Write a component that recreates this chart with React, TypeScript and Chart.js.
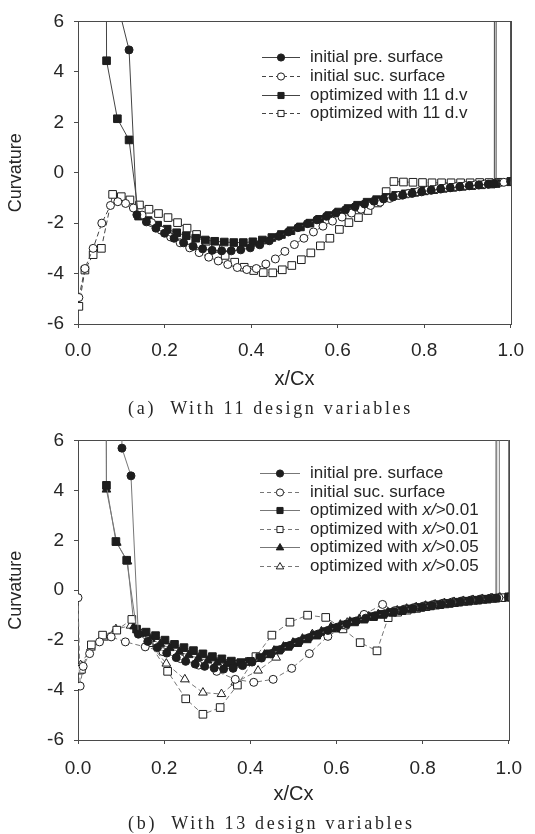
import React, { useEffect, useRef } from 'react';
import { Chart, registerables } from 'chart.js';

Chart.register(...registerables);

const FONT = '"Liberation Sans", Arial, Helvetica, sans-serif';
const SERIF = '"Liberation Serif", "Times New Roman", Times, serif';

// ---------- axes ----------
const xTickValues = [0, 0.2, 0.4, 0.6, 0.8, 1.0];
const yTickValues = [-6, -4, -2, 0, 2, 4, 6];
const xTitle = 'x/Cx';
const yTitle = 'Curvature';
const captionA = '(a)  With 11 design variables';
const captionB = '(b)  With 13 design variables';

// ---------- chart (a) ----------
const aLabels = ['initial pre. surface', 'initial suc. surface', 'optimized with 11 d.v', 'optimized with 11 d.v'];

const aPreX = [0.0, 0.118, 0.136, 0.158, 0.18, 0.2, 0.222, 0.244, 0.266, 0.288, 0.31, 0.332, 0.354, 0.376, 0.398, 0.42, 0.442, 0.464, 0.486, 0.508, 0.53, 0.552, 0.574, 0.596, 0.618, 0.64, 0.662, 0.684, 0.706, 0.728, 0.75, 0.772, 0.794, 0.816, 0.838, 0.86, 0.882, 0.904, 0.926, 0.948, 0.962, 0.969, 1.0];
const aPreY = [13, 4.87, -1.67, -1.95, -2.2, -2.4, -2.6, -2.78, -2.92, -3.02, -3.08, -3.1, -3.1, -3.06, -2.98, -2.86, -2.7, -2.52, -2.35, -2.18, -2.02, -1.87, -1.73, -1.6, -1.47, -1.35, -1.24, -1.13, -1.04, -0.96, -0.89, -0.82, -0.76, -0.7, -0.65, -0.6, -0.56, -0.52, -0.49, -0.46, -0.44, 400, -0.35];

const aSucX = [0.002, 0.016, 0.035, 0.055, 0.075, 0.092, 0.11, 0.128, 0.148, 0.17, 0.192, 0.214, 0.236, 0.258, 0.28, 0.302, 0.324, 0.346, 0.368, 0.39, 0.412, 0.434, 0.456, 0.478, 0.5, 0.522, 0.544, 0.566, 0.588, 0.61, 0.632, 0.654, 0.676, 0.698, 0.72, 0.742, 0.764, 0.786, 0.808, 0.83, 0.852, 0.874, 0.896, 0.918, 0.94, 0.962, 0.984, 1.0];
const aSucY = [-4.95, -3.8, -3.0, -2.0, -1.3, -1.15, -1.22, -1.4, -1.68, -1.98, -2.28, -2.55, -2.78, -2.98, -3.17, -3.35, -3.5, -3.64, -3.76, -3.84, -3.8, -3.62, -3.42, -3.12, -2.85, -2.6, -2.35, -2.12, -1.92, -1.76, -1.6, -1.45, -1.3, -1.17, -1.02, -0.9, -0.82, -0.75, -0.69, -0.64, -0.59, -0.55, -0.51, -0.48, -0.45, -0.42, -0.38, -0.35];

const aOptPreX = [0.062, 0.066, 0.091, 0.118, 0.14, 0.162, 0.184, 0.206, 0.228, 0.25, 0.272, 0.294, 0.316, 0.338, 0.36, 0.382, 0.404, 0.426, 0.448, 0.47, 0.492, 0.514, 0.536, 0.558, 0.58, 0.602, 0.624, 0.646, 0.668, 0.69, 0.712, 0.734, 0.756, 0.778, 0.8, 0.822, 0.844, 0.866, 0.888, 0.91, 0.932, 0.954, 0.966, 0.973, 1.0];
const aOptPreY = [30, 4.44, 2.14, 1.3, -1.72, -1.9, -2.08, -2.24, -2.38, -2.5, -2.6, -2.67, -2.72, -2.75, -2.77, -2.77, -2.74, -2.67, -2.57, -2.45, -2.3, -2.15, -2.0, -1.85, -1.7, -1.56, -1.42, -1.29, -1.17, -1.07, -0.98, -0.9, -0.84, -0.78, -0.72, -0.67, -0.62, -0.58, -0.54, -0.51, -0.48, -0.45, -0.43, 400, -0.35];

const aOptSucX = [0.002, 0.016, 0.035, 0.054, 0.08, 0.1, 0.12, 0.142, 0.164, 0.186, 0.208, 0.23, 0.252, 0.274, 0.296, 0.318, 0.34, 0.362, 0.384, 0.406, 0.428, 0.45, 0.472, 0.494, 0.516, 0.538, 0.56, 0.582, 0.604, 0.626, 0.648, 0.67, 0.692, 0.712, 0.73, 0.752, 0.774, 0.796, 0.818, 0.84, 0.862, 0.884, 0.906, 0.928, 0.95, 0.972, 1.0];
const aOptSucY = [-5.3, -3.86, -3.25, -3.0, -0.86, -0.95, -1.08, -1.28, -1.45, -1.62, -1.78, -1.98, -2.2, -2.45, -2.72, -3.0, -3.28, -3.55, -3.75, -3.88, -3.96, -3.97, -3.85, -3.68, -3.45, -3.18, -2.9, -2.6, -2.25, -1.98, -1.78, -1.5, -1.2, -0.75, -0.35, -0.37, -0.38, -0.39, -0.4, -0.4, -0.4, -0.4, -0.4, -0.39, -0.39, -0.38, -0.36];

// ---------- chart (b) ----------
const bLabels = ['initial pre. surface', 'initial suc. surface', 'optimized with x/>0.01', 'optimized with x/>0.01', 'optimized with x/>0.05', 'optimized with x/>0.05'];

const bPreX = [0.098, 0.102, 0.123, 0.14, 0.162, 0.184, 0.206, 0.228, 0.25, 0.272, 0.294, 0.316, 0.338, 0.36, 0.382, 0.404, 0.426, 0.448, 0.47, 0.492, 0.514, 0.536, 0.558, 0.58, 0.602, 0.624, 0.646, 0.668, 0.69, 0.712, 0.734, 0.756, 0.778, 0.8, 0.822, 0.844, 0.866, 0.888, 0.91, 0.932, 0.954, 0.972, 0.976, 1.0];
const bPreY = [30, 5.69, 4.58, -1.76, -2.05, -2.3, -2.52, -2.7, -2.85, -2.96, -3.05, -3.12, -3.16, -3.13, -3.02, -2.88, -2.72, -2.55, -2.38, -2.21, -2.05, -1.9, -1.75, -1.61, -1.48, -1.35, -1.23, -1.12, -1.02, -0.94, -0.86, -0.79, -0.73, -0.67, -0.61, -0.56, -0.51, -0.46, -0.42, -0.38, -0.34, -0.31, 400, -0.27];

const bSucX = [0.0, 0.005, 0.012, 0.027, 0.05, 0.077, 0.11, 0.156, 0.197, 0.238, 0.28, 0.322, 0.365, 0.408, 0.453, 0.496, 0.537, 0.58, 0.622, 0.664, 0.707, 0.735, 0.757, 0.779, 0.801, 0.823, 0.845, 0.867, 0.889, 0.911, 0.933, 0.955, 0.977, 1.0];
const bSucY = [-0.3, -3.84, -3.05, -2.54, -2.07, -1.87, -2.07, -2.27, -2.46, -2.74, -3.0, -3.25, -3.57, -3.69, -3.57, -3.13, -2.54, -1.85, -1.4, -0.97, -0.57, -0.82, -0.76, -0.7, -0.64, -0.58, -0.53, -0.48, -0.44, -0.4, -0.36, -0.33, -0.3, -0.27];

const bOpt1PreX = [0.062, 0.066, 0.088, 0.113, 0.136, 0.158, 0.18, 0.202, 0.224, 0.246, 0.268, 0.29, 0.312, 0.334, 0.356, 0.378, 0.4, 0.422, 0.444, 0.466, 0.488, 0.51, 0.532, 0.554, 0.576, 0.598, 0.62, 0.642, 0.664, 0.686, 0.708, 0.73, 0.752, 0.774, 0.796, 0.818, 0.84, 0.862, 0.884, 0.906, 0.928, 0.95, 0.97, 0.98, 1.0];
const bOpt1PreY = [30, 4.2, 1.95, 1.2, -1.56, -1.68, -1.82, -2.0, -2.17, -2.3, -2.42, -2.55, -2.66, -2.75, -2.84, -2.9, -2.85, -2.7, -2.55, -2.4, -2.25, -2.1, -1.95, -1.8, -1.66, -1.52, -1.39, -1.27, -1.16, -1.06, -0.97, -0.89, -0.82, -0.75, -0.69, -0.63, -0.58, -0.53, -0.48, -0.44, -0.4, -0.36, -0.32, 400, -0.28];

const bOpt1SucX = [0.004, 0.008, 0.031, 0.057, 0.09, 0.125, 0.165, 0.208, 0.25, 0.29, 0.33, 0.37, 0.413, 0.45, 0.492, 0.533, 0.575, 0.615, 0.655, 0.694, 0.72, 0.742, 0.764, 0.786, 0.808, 0.83, 0.852, 0.874, 0.896, 0.918, 0.94, 0.962, 0.984, 1.0];
const bOpt1SucY = [-3.2, -3.17, -2.19, -1.8, -1.6, -1.17, -2.1, -3.25, -4.35, -4.97, -4.7, -3.8, -2.66, -1.8, -1.28, -1.0, -1.09, -1.55, -2.1, -2.43, -1.1, -0.88, -0.8, -0.73, -0.66, -0.6, -0.55, -0.5, -0.45, -0.41, -0.37, -0.33, -0.3, -0.27];

const bOpt2PreX = [0.063, 0.066, 0.09, 0.115, 0.13, 0.147, 0.169, 0.191, 0.213, 0.235, 0.257, 0.279, 0.301, 0.323, 0.345, 0.367, 0.389, 0.411, 0.433, 0.455, 0.477, 0.499, 0.521, 0.543, 0.565, 0.587, 0.609, 0.631, 0.653, 0.675, 0.697, 0.719, 0.741, 0.763, 0.785, 0.807, 0.829, 0.851, 0.873, 0.895, 0.917, 0.939, 0.961, 0.978, 0.982, 1.0];
const bOpt2PreY = [30, 4.03, 1.9, 1.15, -1.45, -1.75, -1.95, -2.15, -2.32, -2.47, -2.6, -2.72, -2.82, -2.9, -2.96, -2.98, -2.9, -2.75, -2.58, -2.42, -2.26, -2.1, -1.94, -1.8, -1.65, -1.52, -1.38, -1.26, -1.15, -1.05, -0.96, -0.88, -0.81, -0.74, -0.68, -0.62, -0.57, -0.52, -0.47, -0.43, -0.39, -0.35, -0.32, -0.3, 400, -0.27];

const bOpt2SucX = [0.006, 0.03, 0.06, 0.088, 0.122, 0.167, 0.205, 0.248, 0.29, 0.333, 0.365, 0.418, 0.46, 0.503, 0.544, 0.587, 0.625, 0.66, 0.7, 0.738, 0.76, 0.782, 0.804, 0.826, 0.848, 0.87, 0.892, 0.914, 0.936, 0.958, 0.98, 1.0];
const bOpt2SucY = [-3.0, -2.3, -1.9, -1.56, -1.42, -2.15, -2.94, -3.57, -4.1, -4.16, -3.7, -3.22, -2.7, -2.15, -1.76, -1.48, -1.3, -1.15, -1.0, -0.85, -0.78, -0.71, -0.65, -0.59, -0.54, -0.49, -0.45, -0.41, -0.37, -0.33, -0.3, -0.27];

// ---------- helpers ----------
type Shape = 'circle' | 'rect' | 'triangle';
type Series = { label: string; xs: number[]; ys: number[]; shape: Shape; filled: boolean; dashed: boolean };

const zip = (xs: number[], ys: number[]) => xs.map((x, i) => ({ x, y: ys[i] }));

const MARK = '#1e1e1e';
const TEXT = '#262626';
const AXIS = '#4a4a4a';

function drawMarker(ctx: CanvasRenderingContext2D, shape: Shape, x: number, y: number, r: number, filled: boolean) {
  ctx.beginPath();
  if (shape === 'circle') {
    ctx.arc(x, y, r, 0, Math.PI * 2);
  } else if (shape === 'rect') {
    const s = r * 0.85;
    ctx.rect(x - s, y - s, 2 * s, 2 * s);
  } else {
    const h = r * 1.1;
    ctx.moveTo(x, y - h);
    ctx.lineTo(x + h * 0.95, y + h * 0.6);
    ctx.lineTo(x - h * 0.95, y + h * 0.6);
    ctx.closePath();
  }
  ctx.fillStyle = filled ? MARK : '#ffffff';
  ctx.fill();
  ctx.lineWidth = 1;
  ctx.strokeStyle = MARK;
  ctx.stroke();
}

type LegendLayout = { x0: number; x1: number; textX: number; y0: number; dy: number; fontSize: number; lineColor: string };

function makeLegendPlugin(series: Series[], L: LegendLayout) {
  return {
    id: 'inlineLegend',
    afterDraw(chart: any) {
      const ctx: CanvasRenderingContext2D = chart.ctx;
      ctx.save();
      series.forEach((s, i) => {
        const y = Math.round(L.y0 + i * L.dy) + 0.5;
        ctx.strokeStyle = L.lineColor;
        ctx.lineWidth = 1;
        ctx.setLineDash(s.dashed ? [4, 3] : []);
        ctx.beginPath();
        ctx.moveTo(L.x0, y);
        ctx.lineTo(L.x1, y);
        ctx.stroke();
        ctx.setLineDash([]);
        drawMarker(ctx, s.shape, (L.x0 + L.x1) / 2, y, 3.6, s.filled);
        ctx.fillStyle = TEXT;
        ctx.textBaseline = 'middle';
        ctx.textAlign = 'left';
        let x = L.textX;
        const parts = s.label.split(/(x\/)/).filter((p) => p.length > 0);
        parts.forEach((p) => {
          const it = p === 'x/';
          ctx.font = `${it ? 'italic ' : ''}${L.fontSize}px ${FONT}`;
          ctx.fillText(p, x, y);
          x += ctx.measureText(p).width;
        });
      });
      ctx.restore();
    },
  };
}

const framePlugin = {
  id: 'frame',
  beforeDatasetsDraw(chart: any) {
    const { ctx, chartArea } = chart;
    const { left, top, right, bottom } = chartArea;
    ctx.save();
    ctx.strokeStyle = AXIS;
    ctx.lineWidth = 1;
    ctx.strokeRect(Math.round(left) + 0.5, Math.round(top) + 0.5, Math.round(right - left), Math.round(bottom - top));
    ctx.restore();
  },
};

type Cfg = {
  series: Series[];
  lineColor: string;
  xAxisH: number;
  xTickPad: number;
  xTitlePadBottom: number;
  legend: LegendLayout;
};

function buildConfig(c: Cfg): any {
  const pointR: Record<Shape, number> = { circle: 4, rect: 5.4, triangle: 5 };
  const datasets = c.series.map((s) => ({
    label: s.label,
    data: zip(s.xs, s.ys),
    showLine: true,
    borderColor: c.lineColor,
    borderWidth: 1,
    borderDash: s.dashed ? [5, 3] : [],
    pointStyle: s.shape,
    pointRadius: pointR[s.shape],
    pointBackgroundColor: s.filled ? MARK : '#ffffff',
    pointBorderColor: MARK,
    pointBorderWidth: 1,
    fill: false,
    tension: 0,
  }));
  return {
    type: 'scatter',
    data: { datasets },
    options: {
      responsive: false,
      maintainAspectRatio: false,
      animation: false,
      events: [],
      layout: { padding: { top: 16, right: 15, left: 0, bottom: 0 } },
      plugins: { legend: { display: false }, tooltip: { enabled: false }, title: { display: false } },
      scales: {
        x: {
          type: 'linear',
          min: 0,
          max: 1,
          afterBuildTicks: (s: any) => {
            s.ticks = xTickValues.map((value) => ({ value }));
          },
          afterFit: (s: any) => {
            s.height = c.xAxisH;
          },
          border: { display: false },
          grid: { display: true, drawOnChartArea: false, drawTicks: true, tickLength: 4, color: AXIS },
          ticks: {
            autoSkip: false,
            maxRotation: 0,
            padding: c.xTickPad,
            color: TEXT,
            font: { family: FONT, size: 19 },
            callback: (v: any) => Number(v).toFixed(1),
          },
          title: {
            display: true,
            text: xTitle,
            color: TEXT,
            font: { family: FONT, size: 20 },
            padding: { top: 0, bottom: c.xTitlePadBottom },
          },
        },
        y: {
          type: 'linear',
          min: -6,
          max: 6,
          afterBuildTicks: (s: any) => {
            s.ticks = yTickValues.map((value) => ({ value }));
          },
          afterFit: (s: any) => {
            s.width = 78;
          },
          border: { display: false },
          grid: { display: true, drawOnChartArea: false, drawTicks: true, tickLength: 4, color: AXIS },
          ticks: {
            autoSkip: false,
            padding: 10,
            color: TEXT,
            font: { family: FONT, size: 19 },
            callback: (v: any) => String(v),
          },
          title: {
            display: true,
            text: yTitle,
            color: TEXT,
            font: { family: FONT, size: 18 },
            padding: { top: 5, bottom: 0 },
          },
        },
      },
    },
    plugins: [framePlugin, makeLegendPlugin(c.series, c.legend)],
  };
}

const seriesA: Series[] = [
  { label: aLabels[0], xs: aPreX, ys: aPreY, shape: 'circle', filled: true, dashed: false },
  { label: aLabels[1], xs: aSucX, ys: aSucY, shape: 'circle', filled: false, dashed: true },
  { label: aLabels[2], xs: aOptPreX, ys: aOptPreY, shape: 'rect', filled: true, dashed: false },
  { label: aLabels[3], xs: aOptSucX, ys: aOptSucY, shape: 'rect', filled: false, dashed: true },
];

const seriesB: Series[] = [
  { label: bLabels[0], xs: bPreX, ys: bPreY, shape: 'circle', filled: true, dashed: false },
  { label: bLabels[1], xs: bSucX, ys: bSucY, shape: 'circle', filled: false, dashed: true },
  { label: bLabels[2], xs: bOpt1PreX, ys: bOpt1PreY, shape: 'rect', filled: true, dashed: false },
  { label: bLabels[3], xs: bOpt1SucX, ys: bOpt1SucY, shape: 'rect', filled: false, dashed: true },
  { label: bLabels[4], xs: bOpt2PreX, ys: bOpt2PreY, shape: 'triangle', filled: true, dashed: false },
  { label: bLabels[5], xs: bOpt2SucX, ys: bOpt2SucY, shape: 'triangle', filled: false, dashed: true },
];

function PlotCanvas({ cfg, top }: { cfg: Cfg; top: number }) {
  const ref = useRef<HTMLCanvasElement | null>(null);
  useEffect(() => {
    if (!ref.current) return;
    const chart = new Chart(ref.current, buildConfig(cfg));
    return () => chart.destroy();
  }, []);
  return (
    <canvas
      ref={ref}
      width={535}
      height={400}
      style={{ position: 'absolute', left: 0, top, width: 535, height: 400 }}
    />
  );
}

const captionStyle = (top: number): React.CSSProperties => ({
  position: 'absolute',
  left: 128,
  top,
  fontFamily: SERIF,
  fontSize: 18,
  lineHeight: '20px',
  letterSpacing: '2.7px',
  whiteSpace: 'pre',
  color: TEXT,
});

export default function App() {
  const cfgA: Cfg = {
    series: seriesA,
    lineColor: '#444444',
    xAxisH: 76,
    xTickPad: 11,
    xTitlePadBottom: 9,
    legend: { x0: 262, x1: 300, textX: 310, y0: 57, dy: 18.8, fontSize: 17, lineColor: '#444444' },
  };
  const cfgB: Cfg = {
    series: seriesB,
    lineColor: '#777777',
    xAxisH: 79,
    xTickPad: 13,
    xTitlePadBottom: 13,
    legend: { x0: 260, x1: 300, textX: 310, y0: 54, dy: 18.6, fontSize: 17, lineColor: '#777777' },
  };
  return (
    <div style={{ position: 'absolute', left: 0, top: 0, width: 535, height: 834, background: '#ffffff', overflow: 'hidden' }}>
      <PlotCanvas cfg={cfgA} top={0} />
      <PlotCanvas cfg={cfgB} top={419} />
      <div style={captionStyle(398)}>{captionA}</div>
      <div style={captionStyle(813)}>{captionB}</div>
    </div>
  );
}
